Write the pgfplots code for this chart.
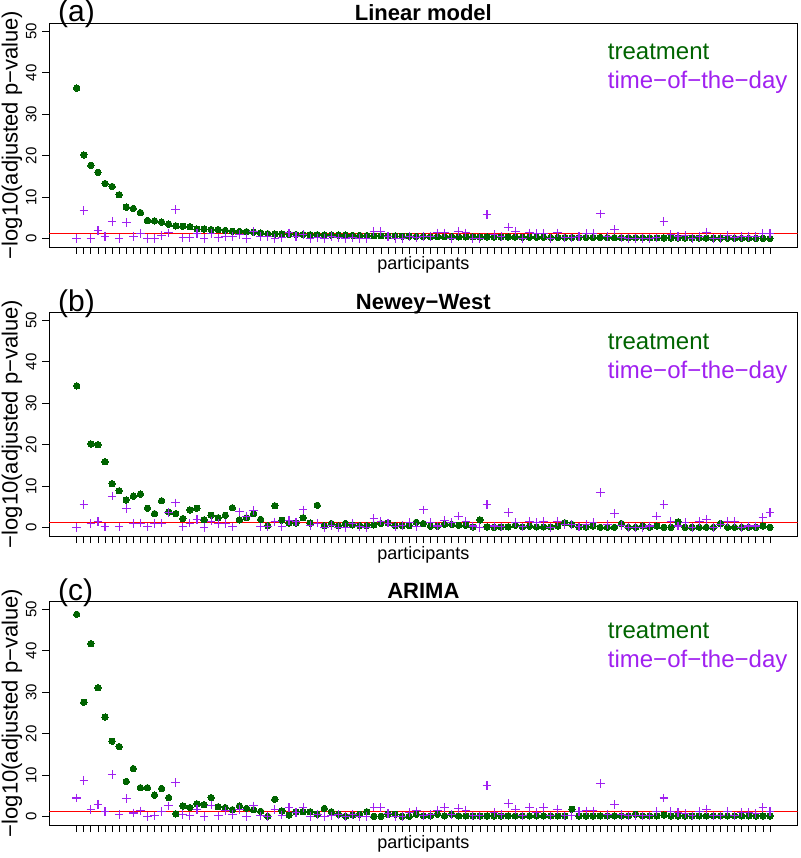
\documentclass[border=0pt]{standalone}
\usepackage{fontspec}
\setmainfont{Liberation Sans}
\usepackage{pgfplots}
\usepackage{pgfplotstable}
\pgfplotsset{compat=1.18}
\definecolor{dgreen}{RGB}{0,100,0}
\definecolor{rpurple}{RGB}{160,32,240}
\definecolor{rred}{RGB}{255,0,0}

\pgfplotstableread{
i t p
1 36.3 0.0
2 20.2 6.8
3 17.7 0.1
4 16.0 2.0
5 13.3 0.6
6 12.6 4.1
7 10.6 0.1
8 7.6 3.9
9 7.3 0.6
10 6.3 1.2
11 4.4 0.0
12 4.3 0.0
13 4.0 0.8
14 3.5 1.4
15 3.1 7.0
16 3.0 0.2
17 2.9 0.2
18 2.3 1.2
19 2.3 0.0
20 2.2 1.3
21 2.2 0.2
22 2.0 0.5
23 1.8 0.5
24 1.75 1.0
25 1.7 0.0
26 1.6 1.7
27 1.4 0.5
28 1.2 0.5
29 1.15 0.0
30 1.1 0.2
31 1.05 1.4
32 1.0 0.5
33 1.0 1.0
34 0.95 0.0
35 0.95 0.2
36 0.9 0.0
37 0.9 0.5
38 0.85 0.2
39 0.85 0.0
40 0.8 0.2
41 0.8 0.0
42 0.75 0.0
43 0.7 1.8
44 0.7 1.7
45 0.65 0.5
46 0.65 0.0
47 0.6 0.0
48 0.6 0.6
49 0.55 0.2
50 0.55 0.5
51 0.5 0.6
52 0.5 1.4
53 0.5 1.4
54 0.5 0.0
55 0.45 1.7
56 0.45 1.4
57 0.45 0.0
58 0.45 0.0
59 0.45 5.8
60 0.4 1.0
61 0.4 0.5
62 0.4 2.8
63 0.4 1.7
64 0.35 0.0
65 0.35 1.4
66 0.35 1.3
67 0.35 1.3
68 0.3 0.0
69 0.3 1.4
70 0.3 0.2
71 0.3 0.2
72 0.3 0.5
73 0.3 1.3
74 0.3 1.3
75 0.3 6.0
76 0.25 0.5
77 0.25 2.2
78 0.25 0.2
79 0.25 0.0
80 0.25 0.0
81 0.25 0.0
82 0.2 0.0
83 0.2 0.2
84 0.2 4.2
85 0.2 1.0
86 0.2 0.5
87 0.2 0.8
88 0.2 0.0
89 0.15 0.5
90 0.15 1.6
91 0.15 0.0
92 0.15 0.0
93 0.15 0.8
94 0.1 0.2
95 0.1 0.5
96 0.1 0.5
97 0.1 0.5
98 0.1 1.3
99 0.05 1.3
}\tabA

\pgfplotstableread{
i t p
1 34.2 0.0
2 nan 5.6
3 20.2 1.0
4 20.0 1.5
5 15.9 0.2
6 10.6 7.6
7 8.9 0.2
8 6.7 4.6
9 7.6 1.0
10 8.1 1.1
11 4.7 0.2
12 3.4 1.0
13 6.5 1.1
14 3.8 3.7
15 3.4 6.0
16 2.2 0.2
17 4.3 1.1
18 4.7 2.0
19 1.9 0.0
20 3.0 1.6
21 2.4 1.0
22 3.0 1.0
23 4.8 0.2
24 1.9 3.8
25 2.4 2.8
26 3.4 4.1
27 2.0 0.2
28 0.5 0.2
29 5.3 1.4
30 1.8 0.2
31 1.1 1.8
32 1.1 1.4
33 2.4 4.3
34 1.1 0.5
35 5.4 1.1
36 0.5 0.0
37 1.0 0.5
38 0.5 0.0
39 1.0 0.0
40 0.7 1.1
41 0.5 0.2
42 0.5 0.0
43 0.7 2.2
44 1.0 1.6
45 1.1 1.1
46 0.5 0.2
47 0.5 0.5
48 0.5 1.3
49 1.3 0.2
50 1.0 4.3
51 0.4 1.2
52 0.4 0.4
53 0.8 1.7
54 0.8 1.2
55 0.6 2.8
56 0.6 1.5
57 0.2 0.4
58 1.9 0.0
59 0.2 5.6
60 0.1 0.4
61 0.2 0.2
62 0.2 3.6
63 0.6 1.3
64 0.2 0.2
65 0.4 1.5
66 0.2 1.3
67 0.2 1.5
68 0.2 0.0
69 0.4 1.5
70 1.2 0.8
71 0.8 0.8
72 0.2 0.2
73 0.2 0.8
74 0.4 1.3
75 0.1 8.5
76 0.1 0.8
77 0.1 3.4
78 1.0 0.6
79 0.1 0.0
80 0.1 0.0
81 0.4 0.0
82 0.1 0.4
83 0.4 2.8
84 0.1 5.6
85 0.1 1.5
86 1.4 0.4
87 0.1 1.2
88 0.1 0.0
89 0.1 1.5
90 0.1 2.0
91 0.1 0.0
92 1.0 0.8
93 0.1 1.5
94 0.1 1.5
95 0.1 0.0
96 0.1 0.4
97 0.1 0.4
98 0.4 2.4
99 0.1 3.6
}\tabB

\pgfplotstableread{
i t p
1 48.8 4.5
2 27.6 8.8
3 41.7 1.7
4 31.1 3.0
5 24.0 1.3
6 18.2 10.2
7 16.9 0.5
8 8.5 4.4
9 11.6 0.9
10 7.0 1.4
11 7.0 0.1
12 5.2 0.2
13 6.8 1.3
14 4.6 2.6
15 0.7 8.2
16 2.6 0.6
17 2.2 0.2
18 3.1 1.8
19 2.9 0.1
20 4.6 2.8
21 2.4 0.2
22 2.2 1.4
23 1.7 0.6
24 2.6 1.7
25 2.0 0.1
26 1.7 2.6
27 1.3 0.2
28 0.1 0.1
29 4.2 1.7
30 1.4 0.4
31 0.4 2.2
32 1.2 1.0
33 1.2 2.2
34 1.2 0.1
35 0.6 0.6
36 2.0 0.1
37 1.2 0.2
38 0.6 0.6
39 0.1 0.1
40 0.4 0.6
41 0.6 0.1
42 1.2 0.1
43 0.1 2.3
44 0.1 2.2
45 0.6 0.8
46 0.6 0.1
47 0.1 0.1
48 0.1 1.0
49 0.6 1.4
50 0.2 0.2
51 0.2 0.5
52 0.6 1.6
53 0.2 2.2
54 0.6 0.5
55 0.2 2.0
56 0.2 1.6
57 0.2 0.2
58 0.2 0.2
59 0.2 7.5
60 0.2 1.0
61 0.2 0.6
62 0.2 3.2
63 0.2 1.8
64 0.2 0.2
65 0.2 2.2
66 0.2 1.0
67 0.2 2.2
68 0.2 0.2
69 0.2 1.8
70 0.2 0.2
71 1.8 0.2
72 0.2 1.2
73 0.2 1.4
74 0.2 1.4
75 0.2 8.0
76 0.2 0.6
77 0.2 2.9
78 0.2 0.5
79 0.2 0.2
80 0.6 0.2
81 0.2 0.2
82 0.2 0.2
83 0.2 1.3
84 0.4 4.5
85 0.2 1.3
86 0.2 1.0
87 0.2 0.8
88 0.2 0.2
89 0.2 1.3
90 0.2 1.8
91 0.2 0.2
92 0.2 0.2
93 0.2 1.3
94 0.2 0.2
95 0.2 1.0
96 0.2 1.0
97 0.2 0.8
98 0.2 2.2
99 0.2 1.3
}\tabC

\pgfplotsset{panel/.style={
  scale only axis, width=748.7pt, height=224pt,
  xmin=-2.92, xmax=102.92, ymin=-2, ymax=52,
  xtick={1,...,99}, xticklabels={},
  ytick={0,10,20,30,40,50},
  tick pos=left, tick align=outside, major tick length=7pt,
  every tick/.style={black, line width=0.8pt},
  axis line style={black, line width=0.8pt},
  /pgf/number format/assume math mode=true,
  yticklabel style={rotate=90, anchor=south, inner sep=5.3pt, font=\fontsize{15pt}{18pt}\selectfont},
  every axis title/.style={at={(0.5,1)}, anchor=base, yshift=2.5pt, inner sep=0pt, font=\fontsize{22pt}{26pt}\selectfont\bfseries},
  ylabel={−log10(adjusted p−value)},
  every axis y label/.style={at={(axis description cs:-0.04207,0.5)}, rotate=90, anchor=base, inner sep=0pt, font=\fontsize{22pt}{26pt}\selectfont},
  xlabel={participants},
  every axis x label/.style={at={(axis description cs:0.5,-0.10268)}, anchor=base, inner sep=0pt, font=\fontsize{18pt}{22pt}\selectfont},
  trt/.style={only marks, mark=*, mark size=3.2pt, mark options={fill=dgreen, draw=dgreen, line width=0pt}},
  tod/.style={only marks, mark=+, mark size=4.3pt, mark options={draw=rpurple, line width=1.1pt}},
  sig/.style={draw=rred, line width=1.6pt, no marks, forget plot},
}}

\newcommand{\legendnodes}[1]{%
  \node[anchor=base west, inner sep=0pt, text=dgreen, font=\fontsize{24pt}{28pt}\selectfont] at ([xshift=558.7pt, yshift=-37pt]#1.north west) {treatment};
  \node[anchor=base west, inner sep=0pt, text=rpurple, font=\fontsize{24pt}{28pt}\selectfont] at ([xshift=558.7pt, yshift=-66pt]#1.north west) {time−of−the−day};
}

\begin{document}
\begin{tikzpicture}
\begin{axis}[panel, name=pa, at={(49pt,-23pt)}, anchor=north west, title={Linear model}]
\addplot[trt] table[x=i, y=t] {\tabA};
\addplot[tod] table[x=i, y=p] {\tabA};
\addplot[sig] coordinates {(-2.92,1.301) (102.92,1.301)};
\end{axis}
\node[anchor=base west, inner sep=0pt, font=\fontsize{30pt}{34pt}\selectfont] at ([xshift=9pt, yshift=1pt]pa.north west) {(a)};
\legendnodes{pa}

\begin{axis}[panel, name=pb, at={(49pt,-312pt)}, anchor=north west, title={Newey−West}]
\addplot[trt] table[x=i, y=t] {\tabB};
\addplot[tod] table[x=i, y=p] {\tabB};
\addplot[sig] coordinates {(-2.92,1.301) (102.92,1.301)};
\end{axis}
\node[anchor=base west, inner sep=0pt, font=\fontsize{30pt}{34pt}\selectfont] at ([xshift=9pt, yshift=1pt]pb.north west) {(b)};
\legendnodes{pb}

\begin{axis}[panel, name=pc, at={(49pt,-601pt)}, anchor=north west, title={ARIMA}]
\addplot[trt] table[x=i, y=t] {\tabC};
\addplot[tod] table[x=i, y=p] {\tabC};
\addplot[sig] coordinates {(-2.92,1.301) (102.92,1.301)};
\end{axis}
\node[anchor=base west, inner sep=0pt, font=\fontsize{30pt}{34pt}\selectfont] at ([xshift=9pt, yshift=1pt]pc.north west) {(c)};
\legendnodes{pc}

\pgfresetboundingbox
\path[use as bounding box] (0,0) rectangle (800pt,-858pt);
\end{tikzpicture}
\end{document}
